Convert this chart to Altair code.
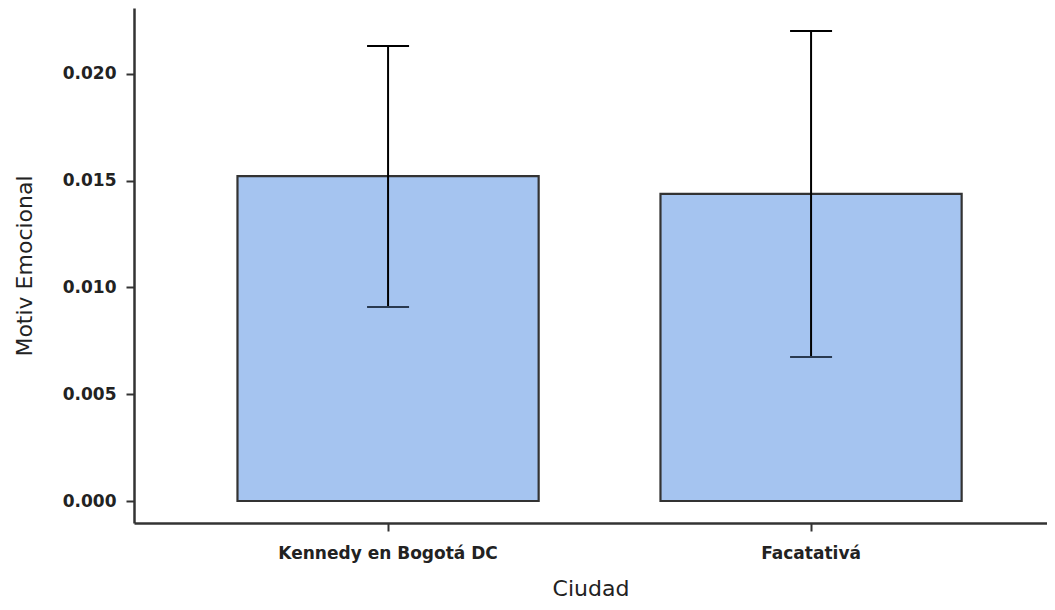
import altair as alt
import pandas as pd

ciudades = ["Kennedy en Bogotá DC", "Facatativá"]
medias = [0.01522, 0.01438]
err_bajo = [0.00909, 0.00675]
err_alto = [0.02131, 0.02201]

df = pd.DataFrame({"Ciudad": ciudades, "media": medias, "lo": err_bajo, "hi": err_alto})

FONT = "DejaVu Sans"

x_enc = alt.X(
    "Ciudad:N",
    sort=ciudades,
    title="Ciudad",
    scale=alt.Scale(paddingInner=0.288, paddingOuter=0.2232, align=0.548),
    axis=alt.Axis(
        labelAngle=0, labelFont=FONT, labelFontSize=17, labelFontWeight="bold", labelColor="#222",
        labelLimit=0,
        titleFont=FONT, titleFontSize=22, titleFontWeight="normal", titleColor="#222",
        domainColor="#333", domainWidth=2.5, tickColor="#333", tickWidth=2, tickSize=8,
        labelPadding=14, titlePadding=17,
    ),
)

y_scale = alt.Scale(domain=[-0.00103, 0.02309], nice=False, zero=False)
y_axis = alt.Axis(
    values=[0.0, 0.005, 0.01, 0.015, 0.02], format=".3f", grid=False,
    labelFont=FONT, labelFontSize=17, labelFontWeight="bold", labelColor="#222",
    titleFont=FONT, titleFontSize=22, titleFontWeight="normal", titleColor="#222",
    domainColor="#333", domainWidth=2.5, tickColor="#333", tickWidth=2, tickSize=8,
    labelPadding=10, titlePadding=26,
)

bars = alt.Chart(df).mark_bar(color="#A5C4F0", stroke="#333333", strokeWidth=2.2).encode(
    x=x_enc,
    y=alt.Y("media:Q", title="Motiv Emocional", scale=y_scale, axis=y_axis),
)

rule = alt.Chart(df).mark_rule(color="black", strokeWidth=2).encode(
    x=alt.X("Ciudad:N", sort=ciudades),
    y=alt.Y("lo:Q", scale=y_scale),
    y2="hi:Q",
)

cap_hi = alt.Chart(df).mark_tick(color="black", size=42, thickness=2, opacity=1).encode(
    x=alt.X("Ciudad:N", sort=ciudades),
    y=alt.Y("hi:Q", scale=y_scale),
)
cap_lo = alt.Chart(df).mark_tick(color="#2a3a50", size=42, thickness=2, opacity=1).encode(
    x=alt.X("Ciudad:N", sort=ciudades),
    y=alt.Y("lo:Q", scale=y_scale),
)

chart = alt.layer(bars, rule, cap_hi, cap_lo).properties(
    width=913, height=515,
    background="white",
    autosize=alt.AutoSizeParams(type="none"),
    padding={"left": 126, "top": 0, "right": 0, "bottom": 80},
).configure_view(strokeWidth=0, stroke="transparent")

chart.save("out.html", embed_options={"renderer": "svg", "actions": False})
